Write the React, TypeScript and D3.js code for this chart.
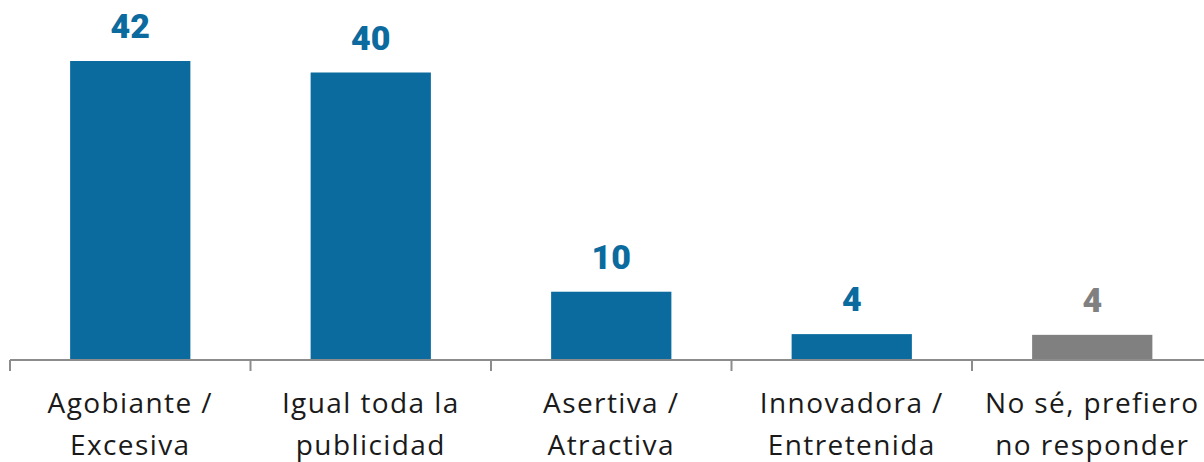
import React from "react";
import * as d3 from "d3";

const categories = [
  "Agobiante /\nExcesiva",
  "Igual toda la\npublicidad",
  "Asertiva /\nAtractiva",
  "Innovadora /\nEntretenida",
  "No sé, prefiero\nno responder",
];
const values = [41.6, 40.0, 9.5, 3.6, 3.5];
const valueLabels = ["42", "40", "10", "4", "4"];
const barColors = ["#0b6a9e", "#0b6a9e", "#0b6a9e", "#0b6a9e", "#808080"];

const W = 1204;
const H = 462;
const axisY = 360;
const FONT = "Roboto, 'Open Sans', sans-serif";
const LABEL_FONT = "'Open Sans', Roboto, sans-serif";

export default function App() {
  const x = d3
    .scaleBand<string>()
    .domain(categories)
    .range([10, 1212.5])
    .paddingInner(0.5)
    .paddingOuter(0.25);
  const y = d3.scaleLinear().domain([0, 41.6]).range([axisY, 61]);
  const step = x.step();
  const ticks = categories.map((_, i) => 10 + i * step).concat([10 + categories.length * step]);

  return (
    <svg
      width={W}
      height={H}
      style={{ position: "absolute", left: 0, top: 0, background: "#fff" }}
      fontFamily={FONT}
    >
      {categories.map((c, i) => (
        <rect
          key={"b" + i}
          x={x(c)}
          y={y(values[i])}
          width={x.bandwidth()}
          height={axisY - y(values[i])}
          fill={barColors[i]}
        />
      ))}
      <line x1={10} x2={W} y1={axisY} y2={axisY} stroke="#8c8c8c" strokeWidth={2} />
      {ticks.map((t, i) => (
        <line key={"t" + i} x1={t} x2={t} y1={axisY} y2={axisY + 11} stroke="#8c8c8c" strokeWidth={2} />
      ))}
      {categories.map((c, i) => (
        <text
          key={"v" + i}
          x={(x(c) as number) + x.bandwidth() / 2}
          y={y(values[i]) - 23}
          textAnchor="middle"
          fontSize={34}
          fontWeight={900}
          fill={barColors[i]}
        >
          {valueLabels[i]}
        </text>
      ))}
      {categories.map((c, i) => (
        <text
          key={"c" + i}
          x={(x(c) as number) + x.bandwidth() / 2}
          textAnchor="middle"
          fontSize={28}
          fontFamily={LABEL_FONT}
          letterSpacing={1.4}
          fill="#1a1a1a"
        >
          {c.split("\n").map((line, j) => (
            <tspan key={j} x={(x(c) as number) + x.bandwidth() / 2} y={413 + j * 42}>
              {line}
            </tspan>
          ))}
        </text>
      ))}
    </svg>
  );
}
